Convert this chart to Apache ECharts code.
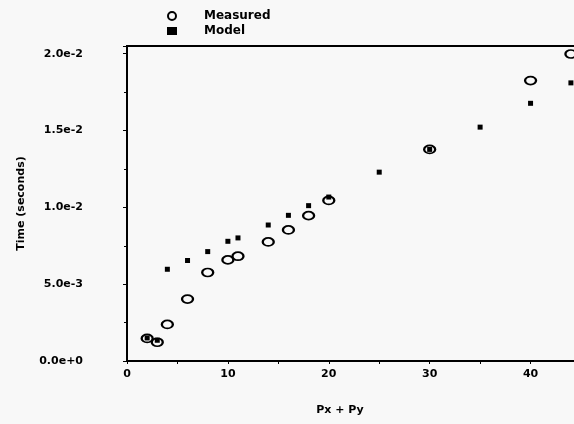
<!DOCTYPE html>
<html>
<head>
<meta charset="utf-8">
<script src="https://cdn.jsdelivr.net/npm/echarts@6/dist/echarts.min.js"></script>
<style>
  html, body { margin: 0; padding: 0; background: #f8f8f8; }
  #main { width: 574px; height: 424px; }
</style>
</head>
<body>
<div id="main"></div>
<script>
// Px + Py values for each series
var measuredX = [2, 3, 4, 6, 8, 10, 11, 14, 16, 18, 20, 30, 40, 44]
var measuredY = [0.00147, 0.00122, 0.00238, 0.00403, 0.00576, 0.00658, 0.00682, 0.00775, 0.00853, 0.00946, 0.01045, 0.01377, 0.01825, 0.01998]
var modelX = [2, 3, 4, 6, 8, 10, 11, 14, 16, 18, 20, 25, 30, 35, 40, 44]
var modelY = [0.0015, 0.00135, 0.00597, 0.00654, 0.00712, 0.00779, 0.00801, 0.00885, 0.00948, 0.01011, 0.01067, 0.01229, 0.01377, 0.01522, 0.01677, 0.0181]
var xTicks = [0, 10, 20, 30, 40]
var yTicks = [0, 0.005, 0.01, 0.015, 0.02]

function pairs(xs, ys) {
  var out = []
  for (let i = 0; i < xs.length; i++) {
    out.push([xs[i], ys[i]])
  }
  return out
}

var font = 'DejaVu Sans'
var chart = echarts.init(document.getElementById('main'), null, { renderer: 'canvas' })

var option = {
  backgroundColor: '#f8f8f8',
  animation: false,
  textStyle: { fontFamily: font, color: '#000' },
  legend: {
    orient: 'vertical',
    left: 162,
    top: 5,
    itemWidth: 10,
    itemHeight: 8,
    itemGap: 3,
    textStyle: { fontFamily: font, fontSize: 12, fontWeight: 'bold', color: '#000', padding: [0, 0, 0, 22] },
    data: [
      { name: 'Measured', icon: 'circle', itemStyle: { color: '#f8f8f8', borderColor: '#000', borderWidth: 2 } },
      { name: 'Model', icon: 'rect', itemStyle: { color: '#000', borderWidth: 0 } }
    ]
  },
  grid: {
    left: 127,
    top: 46,
    width: 454,
    height: 315,
    outerBoundsMode: 'none',
    show: true,
    borderColor: '#000',
    borderWidth: 2,
    backgroundColor: 'transparent'
  },
  xAxis: {
    type: 'value',
    min: 0,
    max: 45,
    interval: 10,
    name: 'Px + Py',
    nameLocation: 'middle',
    nameGap: 44,
    nameTextStyle: { fontFamily: font, fontSize: 11, fontWeight: 'bold', color: '#000', padding: [0, 28, 0, 0] },
    axisLine: { lineStyle: { color: '#000', width: 2 } },
    axisTick: { length: 3, lineStyle: { color: '#000', width: 1 } },
    minorTick: { show: true, splitNumber: 2, length: 3, lineStyle: { color: '#000' } },
    splitLine: { show: false },
    axisLabel: {
      margin: 8,
      fontFamily: font,
      fontSize: 11,
      fontWeight: 'bold',
      color: '#000',
      showMaxLabel: false,
      formatter: function (v) {
        return xTicks.indexOf(v) >= 0 ? String(v) : ''
      }
    }
  },
  yAxis: {
    type: 'value',
    min: 0,
    max: 0.0205,
    interval: 0.005,
    name: 'Time (seconds)',
    nameLocation: 'middle',
    nameGap: 100,
    nameTextStyle: { fontFamily: font, fontSize: 11, fontWeight: 'bold', color: '#000' },
    axisLine: { show: true, lineStyle: { color: '#000', width: 2 } },
    axisTick: { show: true, length: 4, lineStyle: { color: '#000', width: 1 } },
    minorTick: { show: true, splitNumber: 2, length: 3, lineStyle: { color: '#000' } },
    splitLine: { show: false },
    axisLabel: {
      margin: 44,
      fontFamily: font,
      fontSize: 11,
      fontWeight: 'bold',
      color: '#000',
      showMaxLabel: false,
      formatter: function (v) {
        for (let i = 0; i < yTicks.length; i++) {
          if (Math.abs(v - yTicks[i]) < 1e-9) return yTicks[i].toExponential(1)
        }
        return ''
      }
    }
  },
  series: [
    {
      name: 'Measured',
      type: 'scatter',
      symbol: 'circle',
      symbolSize: [11, 8],
      itemStyle: { color: '#f8f8f8', borderColor: '#000', borderWidth: 2, opacity: 1 },
      clip: false,
      data: pairs(measuredX, measuredY)
    },
    {
      name: 'Model',
      type: 'scatter',
      symbol: 'rect',
      symbolSize: 5,
      itemStyle: { color: '#000', opacity: 1 },
      clip: false,
      data: pairs(modelX, modelY)
    }
  ]
}
chart.setOption(option)
</script>
</body>
</html>
